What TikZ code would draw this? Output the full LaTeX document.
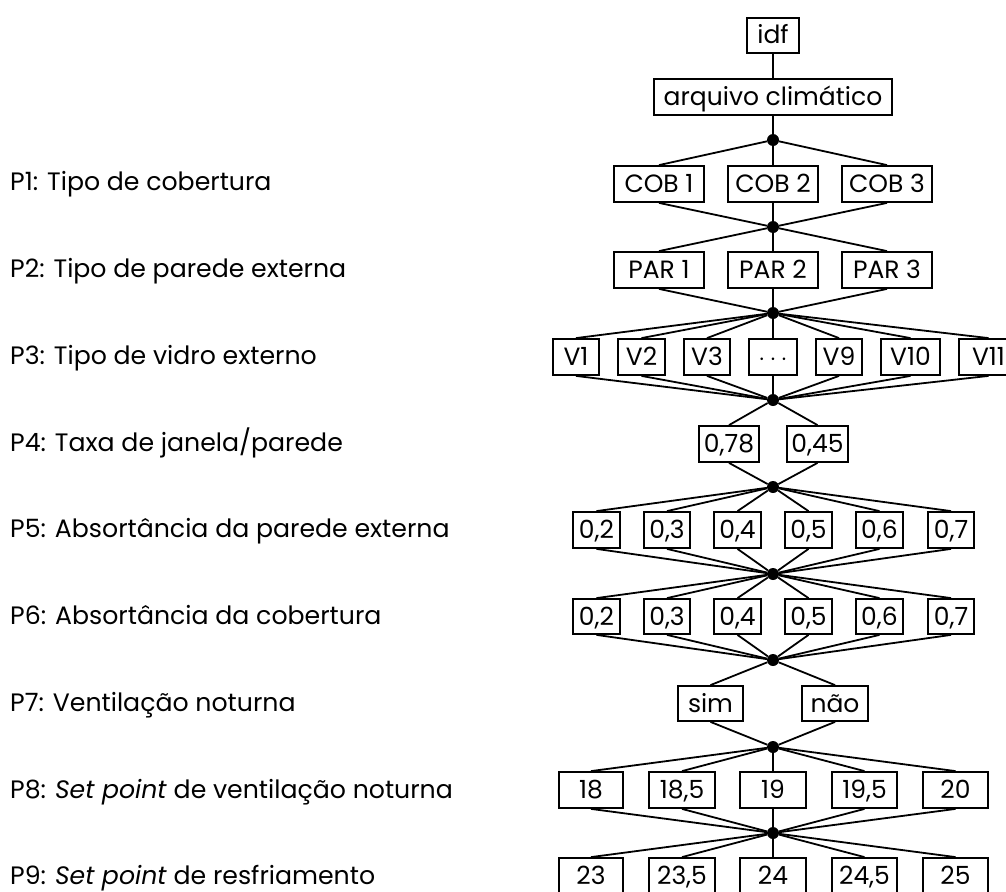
\documentclass[tikz,border=0pt]{standalone}
\usepackage{fontspec}
\setmainfont{Poppins}
\newcommand\bx[6]{\node[box,minimum width={#3-#2},minimum height={#5-#4}] (#1) at ({(#2+#3)/2},{(#4+#5)/2}) {#6};}
\begin{document}
\begin{tikzpicture}[x=1pt,y=-1pt,
  box/.style={draw,line width=1.8pt,inner sep=0pt,font=\fontsize{25}{30}\selectfont,text height=18pt,text depth=1pt},
  dot/.style={circle,fill,inner sep=0pt,minimum size=12pt},
  lab/.style={anchor=base west,inner sep=0pt,font=\fontsize{25.2}{30}\selectfont},
  conn/.style={line width=1.8pt}]
\useasboundingbox[fill=white] (0,0) rectangle (1006,891);
% left labels
\node[lab] (p1) at (10,190) {P1: Tipo de cobertura};
\node[lab] (p2) at (10,277) {P2: Tipo de parede externa};
\node[lab] (p3) at (10,364) {P3: Tipo de vidro externo};
\node[lab] (p4) at (10,451) {P4: Taxa de janela/parede};
\node[lab] (p5) at (10,537) {P5: Absortância da parede externa};
\node[lab] (p6) at (10,624) {P6: Absortância da cobertura};
\node[lab] (p7) at (10,711) {P7: Ventilação noturna};
\node[lab] (p8) at (10,798) {P8: \textit{Set point} de ventilação noturna};
\node[lab] (p9) at (10,884) {P9: \textit{Set point} de resfriamento};
% dots
\foreach \i/\y in {1/140,2/227,3/313,4/400,5/487,6/574,7/660,8/747,9/833}
  \node[dot] (d\i) at (773,\y) {};
% boxes
\bx{idf}{747}{799}{18}{53}{idf}
\bx{arq}{654}{892}{79}{115}{arquivo climático}
\bx{c1}{614}{704}{166}{202}{COB 1}
\bx{c2}{728}{818}{166}{202}{COB 2}
\bx{c3}{842}{932}{166}{202}{COB 3}
\bx{r1}{614}{704}{252}{288}{PAR 1}
\bx{r2}{728}{818}{252}{288}{PAR 2}
\bx{r3}{842}{932}{252}{288}{PAR 3}
\bx{v1}{553}{599}{339}{375}{V1}
\bx{v2}{618}{665}{339}{375}{V2}
\bx{v3}{684}{730}{339}{375}{V3}
\bx{v4}{749}{797}{339}{375}{$\cdots$}
\bx{v5}{816}{862}{339}{375}{V9}
\bx{v6}{881}{940}{339}{375}{V10}
\bx{v7}{959}{1018}{339}{375}{V11}
\bx{t1}{699}{759}{426}{462}{0,78}
\bx{t2}{787}{848}{426}{462}{0,45}
\foreach \n/\a/\b/\txt in {1/573/620/{0,2},2/644/690/{0,3},3/714/761/{0,4},4/785/832/{0,5},5/856/903/{0,6},6/928/974/{0,7}}{
  \bx{a\n}{\a}{\b}{512}{548}{\txt}
  \bx{b\n}{\a}{\b}{599}{634}{\txt}
}
\bx{s1}{678}{743}{686}{721}{sim}
\bx{s2}{802}{868}{686}{721}{não}
\foreach \n/\a/\b/\txt/\txtb in {1/559/623/18/23,2/649/715/{18,5}/{23,5},3/740/806/19/24,4/832/897/{19,5}/{24,5},5/923/988/20/25}{
  \bx{e\n}{\a}{\b}{772}{808}{\txt}
  \bx{f\n}{\a}{\b}{858}{894}{\txtb}
}
% connectors
\draw[conn] (idf) -- (arq);
\draw[conn] (arq) -- (d1);
\foreach \i in {1,2,3} {
  \draw[conn] (d1) -- (c\i.north);
  \draw[conn] (c\i.south) -- (d2);
  \draw[conn] (d2) -- (r\i.north);
  \draw[conn] (r\i.south) -- (d3);
}
\foreach \i in {1,...,7} {
  \draw[conn] (d3) -- (v\i.north);
  \draw[conn] (v\i.south) -- (d4);
}
\foreach \i in {1,2} {
  \draw[conn] (d4) -- (t\i.north);
  \draw[conn] (t\i.south) -- (d5);
}
\foreach \i in {1,...,6} {
  \draw[conn] (d5) -- (a\i.north);
  \draw[conn] (a\i.south) -- (d6);
  \draw[conn] (d6) -- (b\i.north);
  \draw[conn] (b\i.south) -- (d7);
}
\foreach \i in {1,2} {
  \draw[conn] (d7) -- (s\i.north);
  \draw[conn] (s\i.south) -- (d8);
}
\foreach \i in {1,...,5} {
  \draw[conn] (d8) -- (e\i.north);
  \draw[conn] (e\i.south) -- (d9);
  \draw[conn] (d9) -- (f\i.north);
}
\end{tikzpicture}
\end{document}
